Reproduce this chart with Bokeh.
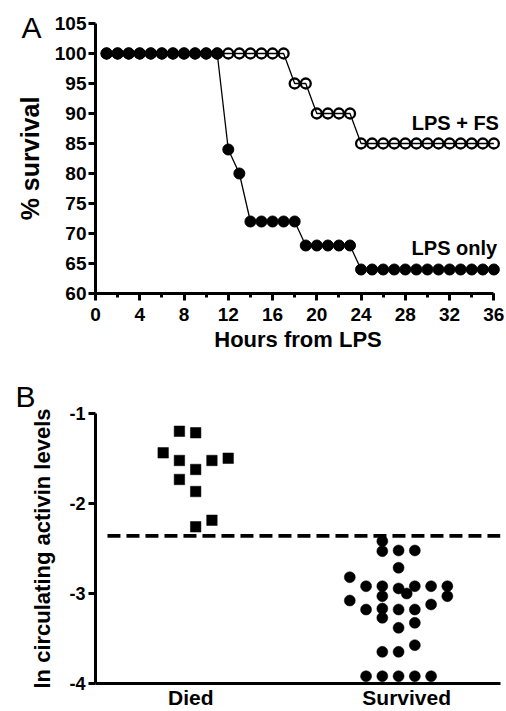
from bokeh.plotting import figure
from bokeh.layouts import column
from bokeh.models import Range1d, SingleIntervalTicker, FixedTicker, Label
from bokeh.embed import file_html
from bokeh.resources import INLINE

FONT = "Liberation Sans"

# ---------------- Panel A data ----------------
hours = [1, 2, 3, 4, 5, 6, 7, 8, 9, 10, 11, 12, 13, 14, 15, 16, 17, 18,
         19, 20, 21, 22, 23, 24, 25, 26, 27, 28, 29, 30, 31, 32, 33, 34, 35, 36]
lps_only = [100, 100, 100, 100, 100, 100, 100, 100, 100, 100, 100, 84, 80,
            72, 72, 72, 72, 72, 68, 68, 68, 68, 68,
            64, 64, 64, 64, 64, 64, 64, 64, 64, 64, 64, 64, 64]
lps_fs = [100, 100, 100, 100, 100, 100, 100, 100, 100, 100, 100, 100, 100,
          100, 100, 100, 100, 95, 95, 90, 90, 90, 90,
          85, 85, 85, 85, 85, 85, 85, 85, 85, 85, 85, 85, 85]
series_names = ["LPS + FS", "LPS only"]

# ---------------- Panel B data ----------------
groups = ["Died", "Survived"]
group_pos = [1, 2]
b_ticks = [-4, -3, -2, -1]
b_tick_labels = ["-4", "-3", "-2", "-1"]
died_vals = [-1.197, -1.214, -1.437, -1.522, -1.522, -1.497, -1.622, -1.733,
             -1.867, -2.186, -2.259]
died_cols = [-0.7, 0.3, -1.7, -0.7, 1.3, 2.3, 0.3, -0.7, 0.3, 1.3, 0.3]
surv_vals = [-2.419, -2.530, -2.522, -2.522, -2.714, -2.819, -2.919, -2.919,
             -2.944, -2.919, -2.919, -2.919, -3.000, -3.030, -3.030, -3.078,
             -3.122, -3.178, -3.167, -3.178, -3.178, -3.270, -3.326, -3.381,
             -3.574, -3.648, -3.648, -3.919, -3.919, -3.919, -3.919, -3.919]
surv_cols = [-1.5, -1.5, -0.5, 0.5, -0.5, -3.5, -2.5, -1.5,
             -0.5, 0.5, 1.5, 2.5, 0.0, -1.5, 2.5, -3.5,
             1.5, -2.5, -1.5, -0.5, 0.5, -1.5, 0.5, -0.5,
             0.5, -1.5, -0.5, -2.5, -1.5, -0.5, 0.5, 1.5]
cutoff = -2.36
col_width = 0.0753


def style_axis(ax, tick_size="17px"):
    ax.axis_line_width = 3
    ax.axis_line_color = "black"
    ax.major_tick_line_width = 3
    ax.major_tick_line_color = "black"
    ax.minor_tick_line_width = 3
    ax.minor_tick_line_color = "black"
    ax.major_tick_in = 0
    ax.minor_tick_in = 0
    ax.major_label_text_font = FONT
    ax.major_label_text_font_style = "bold"
    ax.major_label_text_font_size = tick_size
    ax.major_label_text_color = "black"
    ax.axis_label_text_font = FONT
    ax.axis_label_text_font_style = "bold"
    ax.axis_label_text_color = "black"


def panel_letter(p, letter, offset, standoff):
    p.title.text = letter
    p.title.align = "left"
    p.title.vertical_align = "bottom"
    p.title.offset = offset
    p.title.standoff = standoff
    p.title.text_font = FONT
    p.title.text_font_style = "normal"
    p.title.text_font_size = "30px"
    p.title.text_color = "black"


# ---------------- Figure A ----------------
pA = figure(width=506, height=358, x_range=Range1d(0, 36.6), y_range=Range1d(60, 105),
            output_backend="svg", toolbar_location=None,
            min_border_left=87, min_border_right=6, min_border_top=23, min_border_bottom=65)
pA.xgrid.visible = False
pA.ygrid.visible = False
pA.outline_line_color = None
panel_letter(pA, "A", -74, -41)

style_axis(pA.xaxis[0], "19px")
style_axis(pA.yaxis[0], "19px")
pA.xaxis.ticker = SingleIntervalTicker(interval=4, num_minor_ticks=2)
pA.yaxis.ticker = SingleIntervalTicker(interval=5, num_minor_ticks=0)
pA.xaxis.bounds = (0, 36)
pA.yaxis.bounds = (60, 105)
pA.xaxis.major_tick_out = 7
pA.xaxis.minor_tick_out = 4
pA.yaxis.major_tick_out = 7
pA.yaxis.minor_tick_out = 0
pA.xaxis.major_label_standoff = 7
pA.yaxis.major_label_standoff = 2
pA.xaxis.axis_label = "Hours from LPS"
pA.yaxis.axis_label = "% survival"
pA.xaxis.axis_label_text_font_size = "22px"
pA.yaxis.axis_label_text_font_size = "25px"
pA.xaxis.axis_label_standoff = 3
pA.yaxis.axis_label_standoff = 8

pA.line(hours, lps_fs, line_color="black", line_width=1.3)
pA.scatter(hours, lps_fs, marker="circle", size=10, fill_color=None,
           line_color="black", line_width=2.3)
pA.line(hours, lps_only, line_color="black", line_width=1.3)
pA.scatter(hours, lps_only, marker="circle", size=11, fill_color="black",
           line_color="black", line_width=1)

pA.add_layout(Label(x=36.46, y=88.5, text=series_names[0], text_align="right",
                    text_baseline="middle", text_font=FONT, text_font_style="bold",
                    text_font_size="20px", text_color="black"))
pA.add_layout(Label(x=36.3, y=67.6, text=series_names[1], text_align="right",
                    text_baseline="middle", text_font=FONT, text_font_style="bold",
                    text_font_size="20px", text_color="black"))

# ---------------- Figure B ----------------
pB = figure(width=506, height=353, x_range=Range1d(0.5586, 2.4344), y_range=Range1d(-4, -1),
            output_backend="svg", toolbar_location=None,
            min_border_left=95, min_border_right=6, min_border_top=55, min_border_bottom=26)
pB.xgrid.visible = False
pB.ygrid.visible = False
pB.outline_line_color = None
panel_letter(pB, "B", -80, 2)

style_axis(pB.xaxis[0], "21px")
style_axis(pB.yaxis[0], "18px")
pB.xaxis.ticker = FixedTicker(ticks=group_pos)
pB.xaxis.major_label_overrides = {group_pos[0]: groups[0], group_pos[1]: groups[1]}
pB.xaxis.major_tick_out = 0
pB.xaxis.minor_tick_out = 0
pB.xaxis.major_label_standoff = 2
pB.yaxis.ticker = FixedTicker(ticks=b_ticks)
pB.yaxis.major_label_overrides = dict(zip(b_ticks, b_tick_labels))
pB.yaxis.bounds = (-4, -1)
pB.yaxis.major_tick_out = 7
pB.yaxis.minor_tick_out = 0
pB.yaxis.major_label_standoff = 3
pB.yaxis.axis_label = "ln circulating activin levels"
pB.yaxis.axis_label_text_font_size = "22px"
pB.yaxis.axis_label_standoff = 11

xd = [group_pos[0] + c * col_width for c in died_cols]
xs = [group_pos[1] + c * col_width for c in surv_cols]

pB.line([group_pos[0] - 0.386, group_pos[1] + 0.45], [cutoff, cutoff],
        line_color="black", line_width=3.8, line_dash="13 6")
pB.scatter(xd, died_vals, marker="square", size=10.5, fill_color="black",
           line_color="black", line_width=0.5)
pB.scatter(xs, surv_vals, marker="circle", size=11, fill_color="black",
           line_color="black", line_width=0.5)

layout = column(pA, pB, spacing=0)
open("out.html", "w").write(file_html(layout, INLINE))
